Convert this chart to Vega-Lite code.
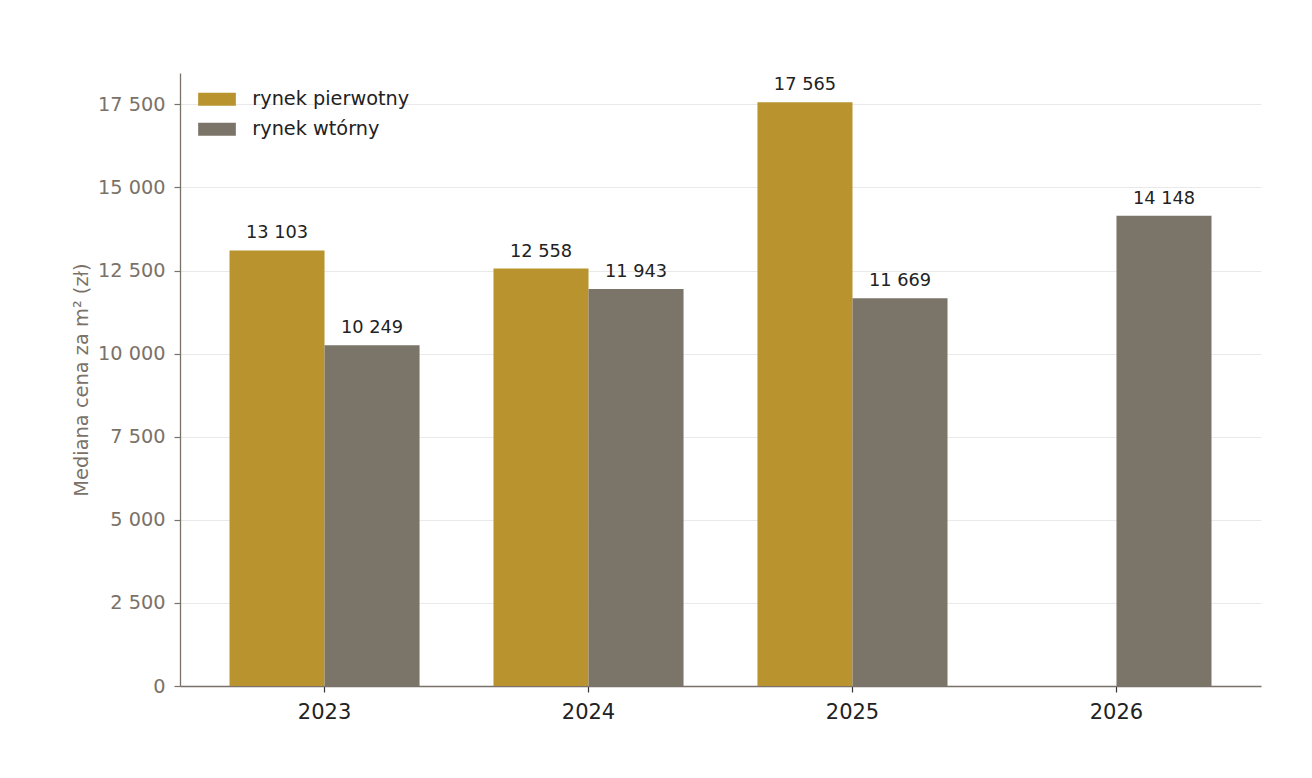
{
  "$schema": "https://vega.github.io/schema/vega-lite/v6.json",
  "width": 1081,
  "height": 613,
  "autosize": {"type": "none"},
  "padding": {"left": 180, "top": 73, "right": 51, "bottom": 92},
  "background": "#ffffff",
  "config": {
    "font": "DejaVu Sans",
    "view": {"stroke": null},
    "locale": {"number": {"decimal": ",", "thousands": " ", "grouping": [3], "currency": ["", " zł"]}}
  },
  "data": {
    "values": [
      {"rok": "2023", "rynek": "rynek pierwotny", "cena": 13103},
      {"rok": "2023", "rynek": "rynek wtórny", "cena": 10249},
      {"rok": "2024", "rynek": "rynek pierwotny", "cena": 12558},
      {"rok": "2024", "rynek": "rynek wtórny", "cena": 11943},
      {"rok": "2025", "rynek": "rynek pierwotny", "cena": 17565},
      {"rok": "2025", "rynek": "rynek wtórny", "cena": 11669},
      {"rok": "2026", "rynek": "rynek wtórny", "cena": 14148}
    ]
  },
  "encoding": {
    "x": {
      "field": "rok",
      "type": "nominal",
      "scale": {"paddingInner": 0.28, "paddingOuter": 0.1875},
      "axis": {
        "title": null,
        "labelAngle": 0,
        "labelFontSize": 21,
        "labelColor": "#222222",
        "labelPadding": 9,
        "domainColor": "#7a7268",
        "domainWidth": 1.3,
        "tickColor": "#333333",
        "tickSize": 6,
        "tickWidth": 1.2,
        "grid": false
      }
    },
    "xOffset": {
      "field": "rynek",
      "type": "nominal",
      "scale": {"domain": ["rynek pierwotny", "rynek wtórny"], "paddingInner": 0, "paddingOuter": 0}
    },
    "y": {
      "field": "cena",
      "type": "quantitative",
      "scale": {"domain": [0, 18443], "nice": false, "zero": true},
      "axis": {
        "title": "Mediana cena za m² (zł)",
        "titleColor": "#7a7268",
        "titleFontSize": 19.4,
        "titleFontWeight": "normal",
        "titlePadding": 6,
        "values": [0, 2500, 5000, 7500, 10000, 12500, 15000, 17500],
        "format": ",d",
        "labelFontSize": 19.3,
        "labelColor": "#7a7268",
        "labelPadding": 9,
        "domainColor": "#7a7268",
        "domainWidth": 1.3,
        "tickColor": "#7a7268",
        "tickSize": 6,
        "tickWidth": 1.2,
        "grid": true,
        "gridColor": "#e9e9e9",
        "gridWidth": 1
      }
    }
  },
  "layer": [
    {
      "mark": {"type": "bar"},
      "encoding": {
        "color": {
          "field": "rynek",
          "type": "nominal",
          "scale": {"domain": ["rynek pierwotny", "rynek wtórny"], "range": ["#b8932e", "#7b7468"]},
          "legend": {
            "title": null,
            "orient": "none",
            "legendX": 15,
            "legendY": 16.5,
            "padding": 0,
            "labelFontSize": 19.3,
            "labelColor": "#222222",
            "symbolType": "M-1,-1H4.8V1H-1Z",
            "symbolSize": 169,
            "symbolStrokeWidth": 0,
            "symbolOpacity": 1,
            "labelOffset": 38,
            "rowPadding": 10
          }
        }
      }
    },
    {
      "mark": {"type": "text", "fontSize": 17.8, "color": "#222222", "baseline": "alphabetic", "align": "center", "dy": -12},
      "encoding": {
        "text": {"field": "cena", "type": "quantitative", "format": ",d"}
      }
    }
  ]
}
